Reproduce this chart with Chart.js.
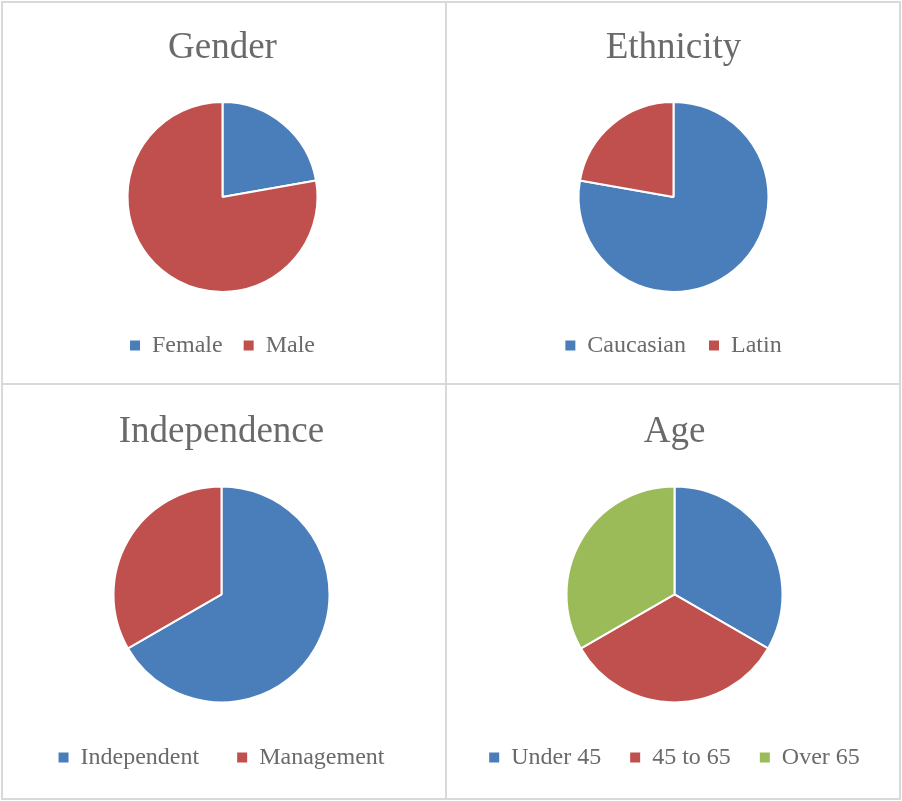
<!DOCTYPE html>
<html>
<head>
<meta charset="utf-8">
<script src="https://cdn.jsdelivr.net/npm/chart.js@4/dist/chart.umd.min.js"></script>
<style>
  body { margin: 0; background: #fff; width: 902px; height: 801px; position: relative; overflow: hidden; }
  .frame { position: absolute; left: 1px; top: 1px; width: 900px; height: 799px; box-sizing: border-box; border: 2px solid #d9d9d9; }
  .vline { position: absolute; left: 445px; top: 1px; width: 2px; height: 799px; background: #d9d9d9; }
  .hline { position: absolute; left: 1px; top: 383px; width: 900px; height: 2px; background: #d9d9d9; }
  canvas { position: absolute; }
</style>
</head>
<body>
<div class="frame"></div>
<div class="vline"></div>
<div class="hline"></div>
<canvas id="gender" style="left:3px;top:3px" width="442" height="380"></canvas>
<canvas id="ethnicity" style="left:447px;top:3px" width="452" height="380"></canvas>
<canvas id="independence" style="left:3px;top:385px" width="442" height="413"></canvas>
<canvas id="age" style="left:447px;top:385px" width="452" height="413"></canvas>
<script>
const genderLabels = ["Female", "Male"];
const genderValues = [2, 7];

const ethnicityLabels = ["Caucasian", "Latin"];
const ethnicityValues = [7, 2];

const independenceLabels = ["Independent", "Management"];
const independenceValues = [6, 3];

const ageLabels = ["Under 45", "45 to 65", "Over 65"];
const ageValues = [3, 3, 3];

const blue = "#4a7ebb";
const red = "#c0504d";
const green = "#9bbb59";
const textGray = "#6a6a6a";
const fontFamily = "'Liberation Serif', 'Times New Roman', serif";

// legend boxes without the white slice border
function legendLabels(chart) {
  const items = Chart.overrides.pie.plugins.legend.labels.generateLabels(chart);
  items.forEach((item) => {
    item.lineWidth = 0;
    item.strokeStyle = "rgba(0,0,0,0)";
  });
  return items;
}

function makePie(id, title, labels, values, colors, opts) {
  const ctx = document.getElementById(id);
  return new Chart(ctx, {
    type: "pie",
    data: {
      labels: labels,
      datasets: [
        {
          data: values,
          backgroundColor: colors,
          borderColor: "#ffffff",
          borderWidth: 2,
          radius: opts.radius,
        },
      ],
    },
    options: {
      responsive: false,
      animation: false,
      devicePixelRatio: 1,
      layout: {
        padding: { top: 0, bottom: opts.bottom, left: opts.left || 0, right: opts.right || 0 },
      },
      plugins: {
        tooltip: { enabled: false },
        title: {
          display: true,
          text: title,
          color: textGray,
          font: { family: fontFamily, size: 37, weight: "normal" },
          padding: { top: opts.titleTop, bottom: opts.titleBottom },
        },
        legend: {
          position: "bottom",
          labels: {
            color: textGray,
            font: { family: fontFamily, size: 24 },
            boxWidth: 10,
            boxHeight: 10,
            padding: opts.legendPad,
            generateLabels: legendLabels,
          },
        },
      },
    },
  });
}

makePie("gender", "Gender", genderLabels, genderValues, [blue, red],
  { radius: 95, bottom: 15.5, right: 3, titleTop: 23, titleBottom: 11, legendPad: 21 });
makePie("ethnicity", "Ethnicity", ethnicityLabels, ethnicityValues, [blue, red],
  { radius: 95, bottom: 15.5, left: 1, titleTop: 23, titleBottom: 13, legendPad: 23 });
makePie("independence", "Independence", independenceLabels, independenceValues, [blue, red],
  { radius: 108, bottom: 18.5, right: 5, titleTop: 25, titleBottom: 27, legendPad: 38 });
makePie("age", "Age", ageLabels, ageValues, [blue, red, green],
  { radius: 108, bottom: 18.5, left: 3, titleTop: 25, titleBottom: 18, legendPad: 29 });
</script>
</body>
</html>
